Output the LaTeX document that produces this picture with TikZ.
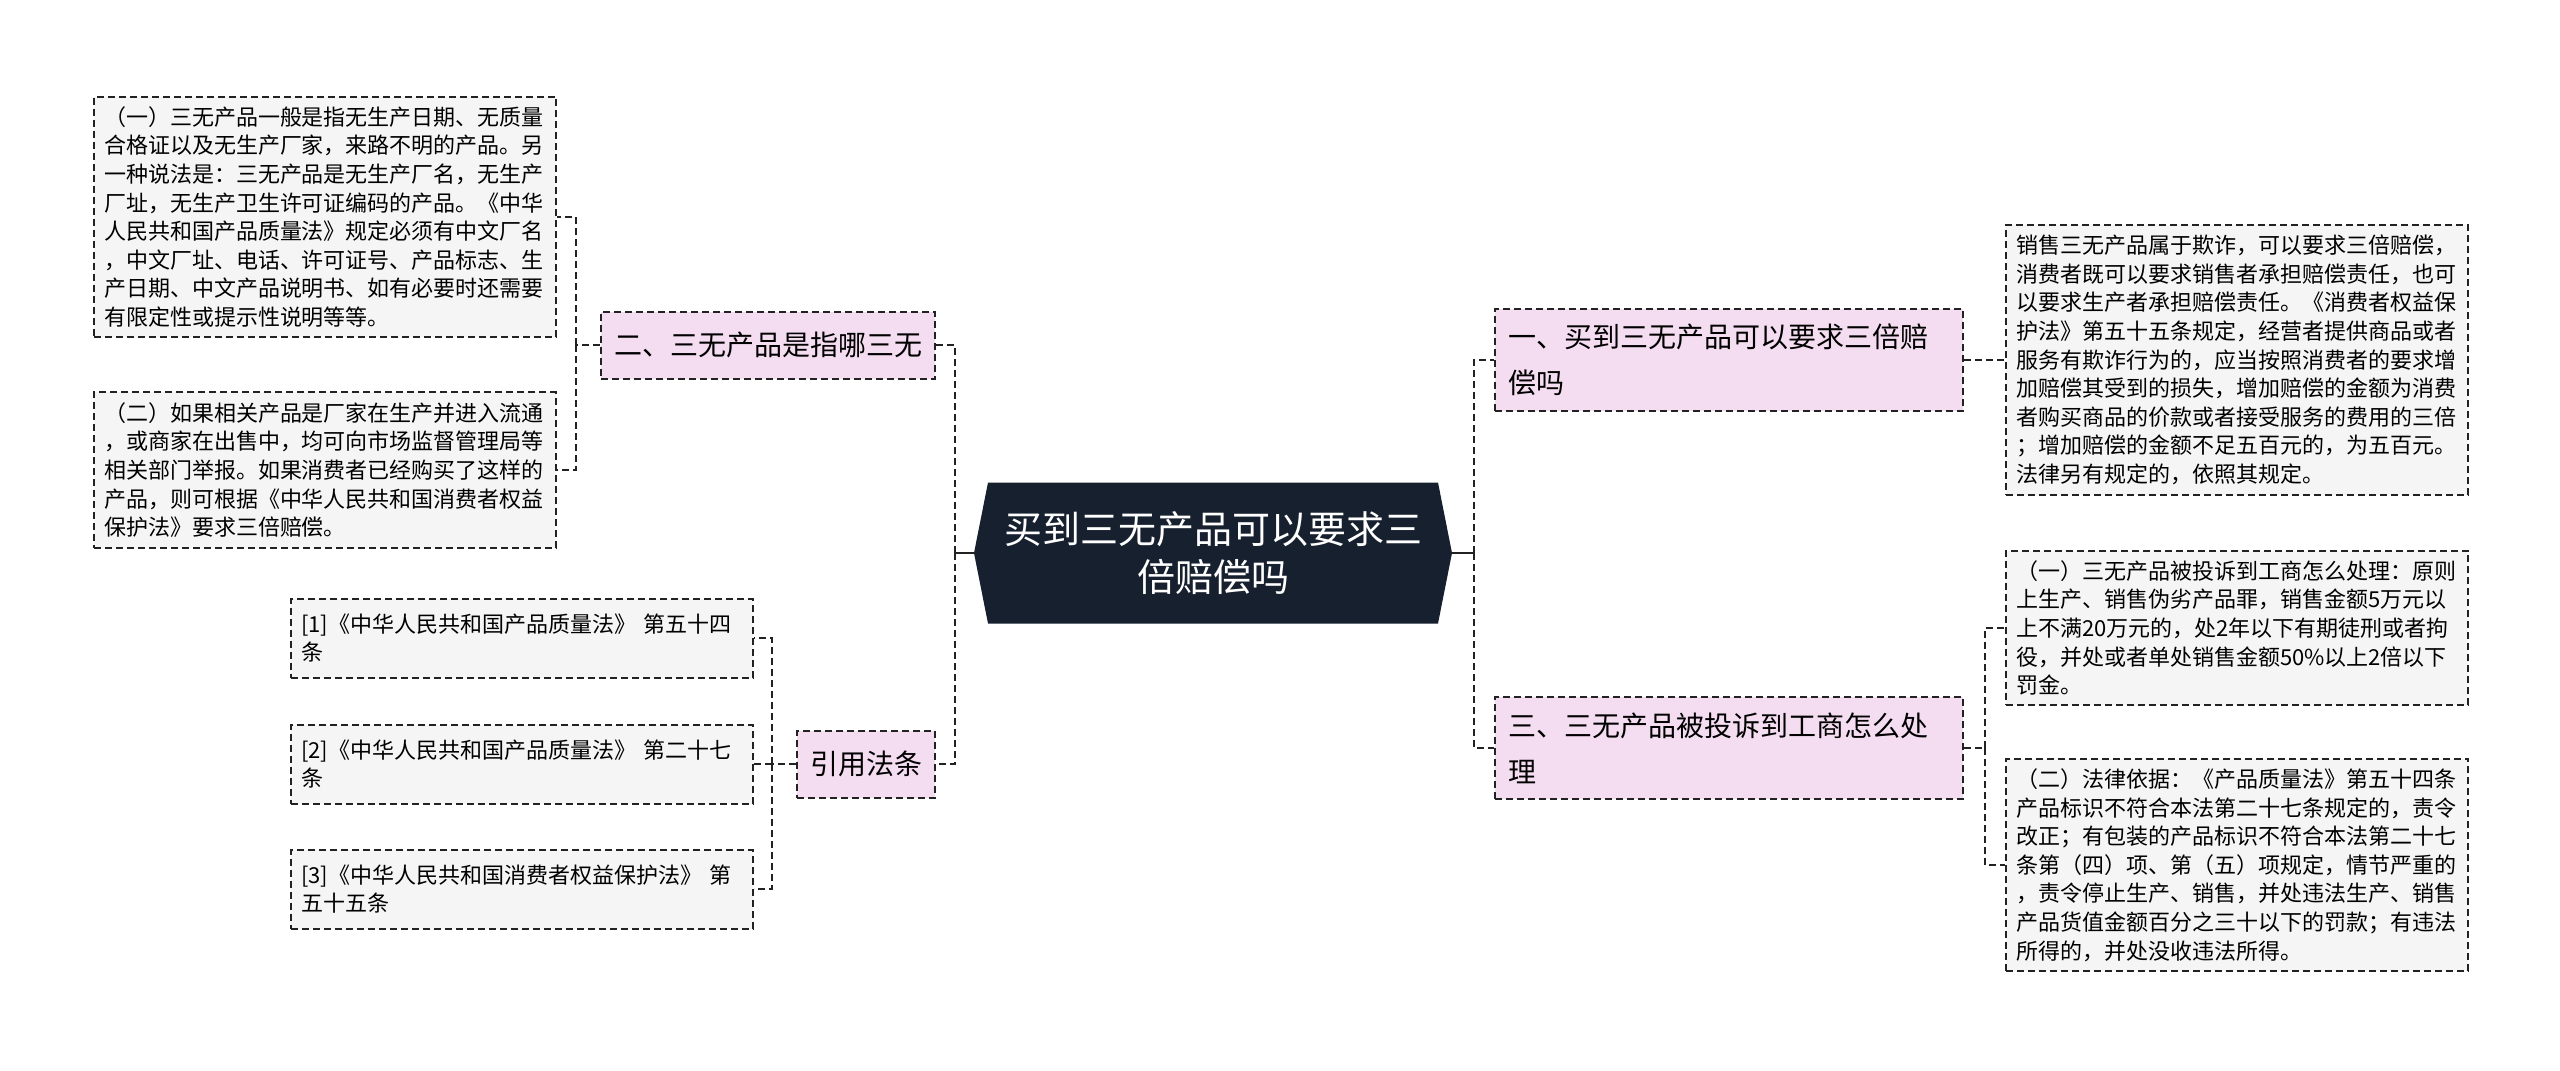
\documentclass[tikz,border=0pt]{standalone}
\usepackage{fontspec}
\setmainfont{Noto Sans CJK SC}
\usetikzlibrary{positioning}
\definecolor{RootNavy}{RGB}{23,32,46}
\definecolor{TopicPink}{RGB}{245,221,241}
\definecolor{LeafGray}{RGB}{245,245,245}
\definecolor{LineDark}{RGB}{34,34,34}

\begin{document}
\begin{tikzpicture}[
    x=0.5pt,
    y=-0.5pt,
    root/.style={
        minimum width=239pt,
        minimum height=70.5pt,
        align=center,
        text=white,
        font=\fontsize{19}{24}\selectfont,
        path picture={
            \fill[RootNavy] (path picture bounding box.west)
                -- ([xshift=7pt]path picture bounding box.north west)
                -- ([xshift=-7pt]path picture bounding box.north east)
                -- (path picture bounding box.east)
                -- ([xshift=-7pt]path picture bounding box.south east)
                -- ([xshift=7pt]path picture bounding box.south west)
                -- cycle;
        }
    },
    topic/.style={
        draw=LineDark,
        line width=1pt,
        dash pattern=on 3.5pt off 2pt,
        fill=TopicPink,
        align=left,
        inner xsep=6.5pt,
        inner ysep=5pt,
        minimum height=33.5pt,
        font=\fontsize{14}{23}\selectfont
    },
    leaf/.style={
        draw=LineDark,
        line width=1pt,
        dash pattern=on 3.5pt off 2pt,
        fill=LeafGray,
        align=left,
        text width=221pt,
        inner xsep=5pt,
        inner ysep=5pt,
        font=\fontsize{11}{14.3}\selectfont
    },
    link/.style={
        draw=LineDark,
        line width=1.4pt,
        dash pattern=on 3.5pt off 2pt
    },
    stem/.style={
        draw=LineDark,
        line width=1.4pt
    }
]

\fill[white] (0,0) rectangle (2560,1071);
\useasboundingbox (0,0) rectangle (2560,1071);

% centre
\node[root] (root) at (1213,553) {买到三无产品可以要求三\\倍赔偿吗};

% right side
\node[topic, text width=221pt, minimum height=51pt, anchor=west] (t1) at (1494,360)
{一、买到三无产品可以要求三倍赔\\偿吗};
\node[topic, text width=221pt, minimum height=51pt, anchor=west] (t3) at (1494,748)
{三、三无产品被投诉到工商怎么处\\理};

\node[leaf, anchor=west] (r1) at (2005,360)
{销售三无产品属于欺诈，可以要求三倍赔偿，\\
消费者既可以要求销售者承担赔偿责任，也可\\
以要求生产者承担赔偿责任。《消费者权益保\\
护法》第五十五条规定，经营者提供商品或者\\
服务有欺诈行为的，应当按照消费者的要求增\\
加赔偿其受到的损失，增加赔偿的金额为消费\\
者购买商品的价款或者接受服务的费用的三倍\\
；增加赔偿的金额不足五百元的，为五百元。\\
法律另有规定的，依照其规定。};
\node[leaf, anchor=west] (r2) at (2005,628)
{（一）三无产品被投诉到工商怎么处理：原则\\
上生产、销售伪劣产品罪，销售金额5万元以\\
上不满20万元的，处2年以下有期徒刑或者拘\\
役，并处或者单处销售金额50\%以上2倍以下\\
罚金。};
\node[leaf, anchor=west] (r3) at (2005,865)
{（二）法律依据：《产品质量法》第五十四条\\
产品标识不符合本法第二十七条规定的，责令\\
改正；有包装的产品标识不符合本法第二十七\\
条第（四）项、第（五）项规定，情节严重的\\
，责令停止生产、销售，并处违法生产、销售\\
产品货值金额百分之三十以下的罚款；有违法\\
所得的，并处没收违法所得。};

% left side
\node[topic, anchor=east] (t2) at (936,345) {二、三无产品是指哪三无};
\node[topic, anchor=east] (t4) at (936,764) {引用法条};

\node[leaf, anchor=east] (l1) at (557,217)
{（一）三无产品一般是指无生产日期、无质量\\
合格证以及无生产厂家，来路不明的产品。另\\
一种说法是：三无产品是无生产厂名，无生产\\
厂址，无生产卫生许可证编码的产品。《中华\\
人民共和国产品质量法》规定必须有中文厂名\\
，中文厂址、电话、许可证号、产品标志、生\\
产日期、中文产品说明书、如有必要时还需要\\
有限定性或提示性说明等等。};
\node[leaf, anchor=east] (l2) at (557,470)
{（二）如果相关产品是厂家在生产并进入流通\\
，或商家在出售中，均可向市场监督管理局等\\
相关部门举报。如果消费者已经购买了这样的\\
产品，则可根据《中华人民共和国消费者权益\\
保护法》要求三倍赔偿。};

\node[leaf, minimum height=39.5pt, anchor=east] (c1) at (754,638)
{[1]《中华人民共和国产品质量法》 第五十四\\条};
\node[leaf, minimum height=39.5pt, anchor=east] (c2) at (754,764)
{[2]《中华人民共和国产品质量法》 第二十七\\条};
\node[leaf, minimum height=39.5pt, anchor=east] (c3) at (754,889)
{[3]《中华人民共和国消费者权益保护法》 第\\五十五条};

% connectors
\coordinate (rbus) at (1474,553);
\coordinate (lbus) at (955,553);
\coordinate (t3bus) at (1985,748);
\coordinate (t2bus) at (576,345);
\coordinate (t4bus) at (772,764);

\draw[stem] (root.east) -- (rbus);
\draw[link] (rbus) |- (t1.west);
\draw[link] (rbus) |- (t3.west);
\draw[link] (t1.east) -- (t1.east -| r1.west);
\draw[link] (t3.east) -- (t3bus);
\draw[link] (t3bus) |- (r2.west);
\draw[link] (t3bus) |- (r3.west);

\draw[stem] (root.west) -- (lbus);
\draw[link] (lbus) |- (t2.east);
\draw[link] (lbus) |- (t4.east);
\draw[link] (t2.west) -- (t2bus);
\draw[link] (t2bus) |- (l1.east);
\draw[link] (t2bus) |- (l2.east);
\draw[link] (t4.west) -- (t4bus);
\draw[link] (t4bus) |- (c1.east);
\draw[link] (t4bus) |- (c2.east);
\draw[link] (t4bus) |- (c3.east);

\end{tikzpicture}
\end{document}
